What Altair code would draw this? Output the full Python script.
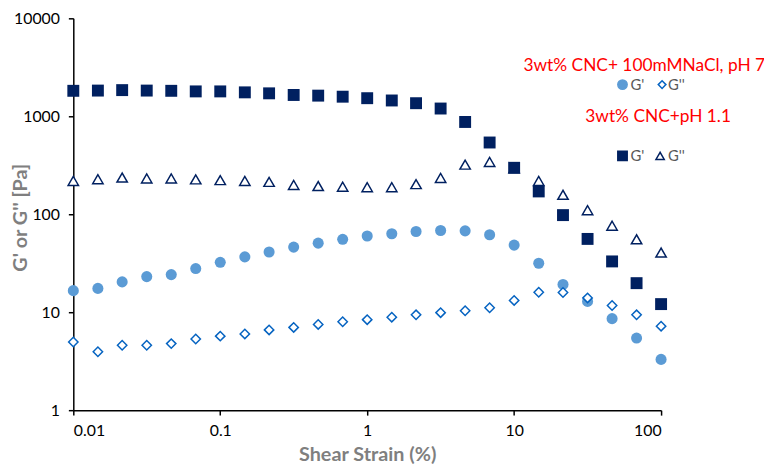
import altair as alt
import pandas as pd

strain = [0.01, 0.0147, 0.0215, 0.0316, 0.0464, 0.0681, 0.1, 0.147, 0.215, 0.316,
          0.464, 0.681, 1, 1.47, 2.15, 3.16, 4.64, 6.81, 10, 14.7, 21.5, 31.6, 46.4, 68.1, 100]

g1_ph11 = [1820, 1830, 1850, 1830, 1820, 1795, 1795, 1755, 1715, 1650, 1625, 1585, 1530,
           1450, 1360, 1200, 875, 540, 298, 171, 98, 56, 33, 19.8, 12.1]
g2_ph11 = [219, 228, 237, 232, 232, 227, 223, 219, 214, 199, 194, 191, 189,
           189, 203, 235, 321, 342, 295, 219, 158, 110, 76.5, 55.5, 40.6]
g1_nacl = [16.6, 17.5, 20.4, 23.1, 24.2, 27.9, 32.3, 36.7, 41.2, 46.2, 50.7, 55.5, 60,
           63.2, 66.7, 68.2, 67.7, 61.8, 48.4, 31.6, 19.2, 12.9, 8.6, 5.45, 3.3]
g2_nacl = [4.97, 3.95, 4.6, 4.6, 4.78, 5.33, 5.7, 6.0, 6.6, 7.0, 7.5, 8.0, 8.4,
           8.9, 9.4, 9.9, 10.35, 11.1, 13.2, 16.0, 15.9, 14.0, 11.7, 9.4, 7.2]

y_ticks = [1, 10, 100, 1000, 10000]
x_ticks = [0.01, 0.1, 1, 10, 100]

FONT = "Lato"
NAVY = "#002060"
LIGHT = "#5b9bd5"
BLUE = "#0563c1"

W, H = 594, 396

x_enc = alt.X("strain:Q",
              scale=alt.Scale(type="log", domain=[0.01, 100], nice=False),
              axis=alt.Axis(values=x_ticks, labelExpr="'' + datum.value",
                            title="Shear Strain (%)", grid=False))
y_enc = alt.Y("val:Q",
              scale=alt.Scale(type="log", domain=[1, 10000], nice=False),
              axis=alt.Axis(values=y_ticks, labelExpr="'' + datum.value",
                            title="G' or G'' [Pa]", grid=False,
                            titleX=-53, titleY=H / 2 + 3, titleBaseline="middle",
                            titleAlign="center", titleAngle=270))

def series(vals):
    return pd.DataFrame({"strain": strain, "val": vals})

circles = alt.Chart(series(g1_nacl)).mark_point(
    shape="circle", filled=True, color=LIGHT, size=125, opacity=1
).encode(x=x_enc, y=y_enc)

diamonds = alt.Chart(series(g2_nacl)).mark_point(
    shape="diamond", filled=True, fill="white", stroke=BLUE, strokeWidth=1.5, size=90, opacity=1
).encode(x=x_enc, y=y_enc)

triangles = alt.Chart(series(g2_ph11)).mark_point(
    shape="triangle-up", filled=True, fill="white", stroke=NAVY, strokeWidth=1.5, size=110, opacity=1
).encode(x=x_enc, y=y_enc)

squares = alt.Chart(series(g1_ph11)).mark_point(
    shape="square", filled=True, color=NAVY, size=145, opacity=1
).encode(x=x_enc, y=y_enc)

one = pd.DataFrame({"a": [0]})

def txt(s, x, y, size, color, align="left", weight="normal"):
    return alt.Chart(one).mark_text(
        font=FONT, fontSize=size, color=color, align=align, baseline="middle", fontWeight=weight
    ).encode(x=alt.value(x), y=alt.value(y), text=alt.value(s))

def sym(shape, x, y, size, fill, stroke):
    return alt.Chart(one).mark_point(
        shape=shape, filled=True, fill=fill, stroke=stroke, strokeWidth=1.5, size=size, opacity=1
    ).encode(x=alt.value(x), y=alt.value(y))

# legend positions relative to plot origin
legend = [
    txt("3wt% CNC+ 100mMNaCl, pH 7", 577, 48, 17.5, "#ff0000", align="center"),
    sym("circle", 555, 67, 90, LIGHT, LIGHT),
    txt("G'", 563, 67, 15, "#595959"),
    sym("diamond", 595, 67, 60, "white", BLUE),
    txt("G''", 601, 67, 15, "#595959"),
    txt("3wt% CNC+pH 1.1", 591, 100, 17.5, "#ff0000", align="center"),
    sym("square", 555, 139, 90, NAVY, NAVY),
    txt("G'", 563, 139, 15, "#595959"),
    sym("triangle-up", 593, 139, 70, "white", NAVY),
    txt("G''", 601, 139, 15, "#595959"),
]

chart = alt.layer(circles, diamonds, triangles, squares, *legend).properties(
    width=W, height=H,
    padding={"left": 66, "top": 8, "right": 104, "bottom": 56},
    autosize=alt.AutoSizeParams(type="none"),
).configure_view(stroke=None).configure_axis(
    domainColor="black", domainWidth=1.5, tickColor="black", tickWidth=1.5, tickSize=5,
    labelFont=FONT, labelFontSize=16, labelColor="black",
    titleFont=FONT, titleFontSize=20, titleFontWeight="bold", titleColor="#7f7f7f",
).configure_axisY(labelPadding=9).configure_axisX(labelPadding=8, titlePadding=6)

chart.save("out.html", embed_options={"renderer": "svg", "actions": False})
